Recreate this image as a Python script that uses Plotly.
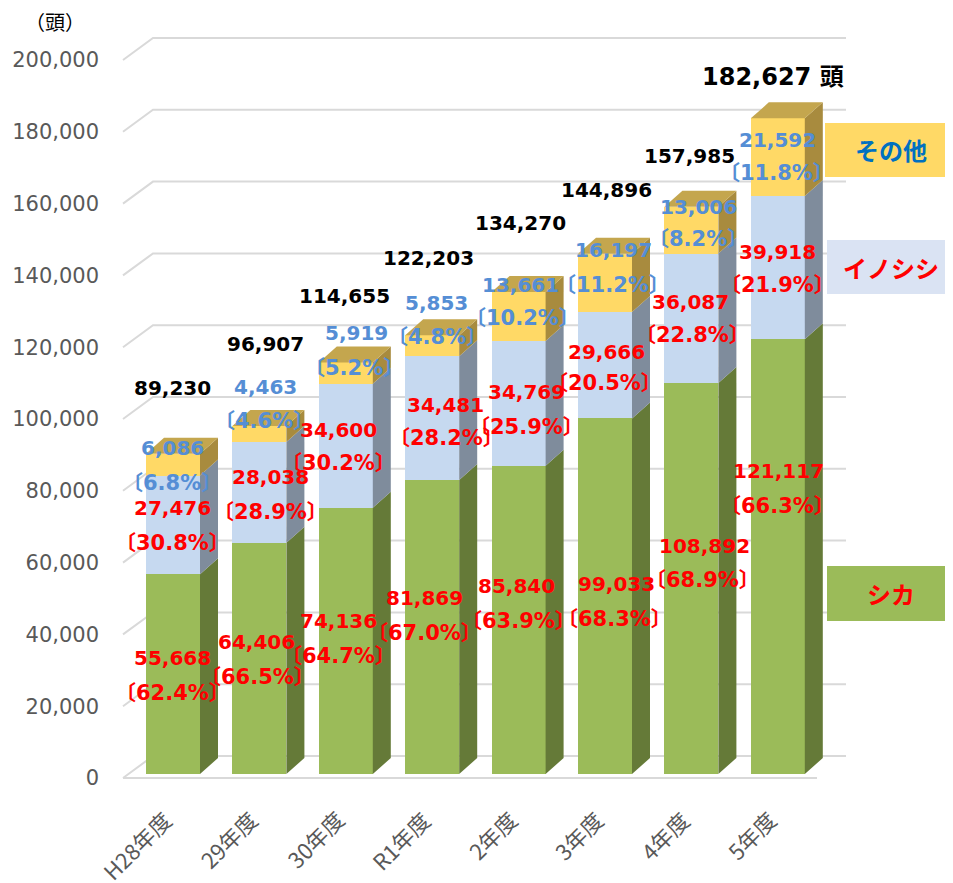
import plotly.graph_objects as go

# ---------------- data ----------------
years = ["H28年度", "29年度", "30年度", "R1年度", "2年度", "3年度", "4年度", "5年度"]
shika = [55668, 64406, 74136, 81869, 85840, 99033, 108892, 121117]
inoshishi = [27476, 28038, 34600, 34481, 34769, 29666, 36087, 39918]
sonota = [6086, 4463, 5919, 5853, 13661, 16197, 13006, 21592]
totals = [89230, 96907, 114655, 122203, 134270, 144896, 157985, 182627]
shika_pct = ["62.4", "66.5", "64.7", "67.0", "63.9", "68.3", "68.9", "66.3"]
ino_pct = ["30.8", "28.9", "30.2", "28.2", "25.9", "20.5", "22.8", "21.9"]
sonota_pct = ["6.8", "4.6", "5.2", "4.8", "10.2", "11.2", "8.2", "11.8"]
y_ticks = [0, 20000, 40000, 60000, 80000, 100000, 120000, 140000, 160000, 180000, 200000]

# ---------------- layout helpers (page pixel <-> data) ----------------
PAGE_W, PAGE_H = 953, 883
OFF = 8                          # default body margin of the html page
W, H = PAGE_W - OFF, PAGE_H - OFF
PL, PR, PT, PB = 100, 900, 20, 800   # plot area in page pixels
ML, MR, MT, MB = PL - OFF, W - (PR - OFF), PT - OFF, H - (PB - OFF)
X0PX, XS = 173.0, 86.4          # page px of category 0 centre, px per category
Y0PX, YS = 778.0, 278.55        # page px of value 0 (front), value per px


def xd(px):
    return (px - X0PX) / XS


def yd(py):
    return (Y0PX - py) * YS


def xp(px):
    return (px - PL) / (PR - PL)


def yp(py):
    return (PB - py) / (PB - PT)


BAR_W = 54 / XS
DX = 18 / XS             # depth offset of bar sides
DY = 16 * YS
BASE = 4 * YS            # bars sit slightly behind the front floor edge
GDX = 30 / XS            # depth offset of back wall
GDY = 22 * YS

GREEN, GREEN_S = "#9bbb59", "#657a38"
BLUE, BLUE_S = "#c6d9f0", "#7f8c9c"
YEL, YEL_S, YEL_T = "#ffd966", "#a88b3e", "#c4a64e"

xs = list(range(len(years)))
base_g = [BASE] * len(xs)
base_b = [BASE + s for s in shika]
base_y = [BASE + s + i for s, i in zip(shika, inoshishi)]

fig = go.Figure()
for vals, bases, col, name in [(shika, base_g, GREEN, "シカ"),
                               (inoshishi, base_b, BLUE, "イノシシ"),
                               (sonota, base_y, YEL, "その他")]:
    fig.add_trace(go.Bar(x=xs, y=vals, base=bases, width=BAR_W, name=name,
                         marker=dict(color=col, line=dict(width=0)),
                         hoverinfo="skip", showlegend=False))

shapes = []
# back-wall gridlines with perspective stub
xl_front, xl_back, xr_back = xd(123), xd(123) + GDX, xd(846)
for t in y_ticks:
    shapes.append(dict(type="path", layer="below",
                       path=f"M {xl_front},{t} L {xl_back},{t + GDY} L {xr_back},{t + GDY}",
                       line=dict(color="#d9d9d9", width=2)))
shapes.append(dict(type="line", layer="below", x0=xl_front, x1=xd(817), y0=0, y1=0,
                   line=dict(color="#d9d9d9", width=2)))

# bar side faces and tops
for i in xs:
    xr = i + BAR_W / 2
    xl = i - BAR_W / 2
    segs = [(base_g[i], base_b[i], GREEN_S), (base_b[i], base_y[i], BLUE_S),
            (base_y[i], base_y[i] + sonota[i], YEL_S)]
    for y0, y1, col in segs:
        shapes.append(dict(type="path", layer="above",
                           path=f"M {xr},{y0} L {xr + DX},{y0 + DY} L {xr + DX},{y1 + DY} L {xr},{y1} Z",
                           fillcolor=col, line=dict(width=0)))
    yt = base_y[i] + sonota[i]
    shapes.append(dict(type="path", layer="above",
                       path=f"M {xl},{yt} L {xl + DX},{yt + DY} L {xr + DX},{yt + DY} L {xr},{yt} Z",
                       fillcolor=YEL_T, line=dict(width=0)))

# legend boxes on the right
legend_boxes = [("その他", YEL, "#0070c0", 825, 123, 177),
                ("イノシシ", "#dae3f3", "#ff0000", 827, 240, 294),
                ("シカ", GREEN, "#ff0000", 827, 566, 621)]
annotations = []
for txt, bg, fc, x0, y0, y1 in legend_boxes:
    shapes.append(dict(type="rect", xref="paper", yref="paper", layer="above",
                       x0=xp(x0), x1=xp(960), y0=yp(y1), y1=yp(y0),
                       fillcolor=bg, line=dict(width=0)))
    annotations.append(dict(xref="paper", yref="paper", x=xp(891), y=yp((y0 + y1) / 2),
                            text=f"<b>{txt}</b>", showarrow=False, xanchor="center", yanchor="middle",
                            font=dict(family="Noto Sans CJK JP", size=24, color=fc)))

# data labels (page-pixel placements)
tot_lab_px = [(172, 388), (265, 344), (344, 296), (428, 258), (520, 223), (606, 190), (689, 156), (773, 77)]
oth_val_px = [(172, 448), (265, 387), (356, 333), (436, 303), (520, 285), (613, 250), (698, 207), (777, 140)]
oth_pct_px = [(172, 483), (264, 421), (354, 368), (437, 337), (522, 318), (612, 285), (698, 239), (776, 173)]
ino_val_px = [(172, 508), (270, 477), (338, 430), (445, 405), (526, 392), (606, 352), (690, 302), (777, 252)]
ino_pct_px = [(172, 543), (270, 512), (338, 463), (446, 438), (526, 427), (604, 383), (692, 335), (777, 285)]
shk_val_px = [(172, 658), (256, 642), (338, 621), (424, 598), (516, 586), (616, 584), (704, 546), (778, 471)]
shk_pct_px = [(172, 693), (257, 677), (338, 656), (424, 633), (518, 621), (614, 619), (702, 580), (777, 506)]

LAB_FONT = "DejaVu Sans, Noto Sans CJK JP"


def lab(pos, text, color, size=20):
    annotations.append(dict(x=xd(pos[0]), y=yd(pos[1]), text=f"<b>{text}</b>", showarrow=False,
                            xanchor="center", yanchor="middle",
                            font=dict(family=LAB_FONT, size=size, color=color)))


for i in xs:
    last = i == len(xs) - 1
    ttxt = f"{totals[i]:,}" + (" 頭" if last else "")
    lab(tot_lab_px[i], ttxt, "#000000", 24 if last else 20)
    lab(oth_val_px[i], f"{sonota[i]:,}", "#558ed5")
    lab(oth_pct_px[i], f"〔{sonota_pct[i]}%〕", "#558ed5", 21)
    lab(ino_val_px[i], f"{inoshishi[i]:,}", "#ff0000")
    lab(ino_pct_px[i], f"〔{ino_pct[i]}%〕", "#ff0000", 21)
    lab(shk_val_px[i], f"{shika[i]:,}", "#ff0000")
    lab(shk_pct_px[i], f"〔{shika_pct[i]}%〕", "#ff0000", 21)

# category labels, rotated, ending just below each bar
for i, name in enumerate(years):
    annotations.append(dict(x=i + 7 / XS, xref="x", y=yp(801), yref="paper", text=name,
                            textangle=-45, showarrow=False, xanchor="right", yanchor="top",
                            font=dict(family="Noto Sans CJK JP", size=22, color="#595959")))

annotations.append(dict(xref="paper", yref="paper", x=xp(55), y=yp(22), text="（頭）",
                        showarrow=False, xanchor="center", yanchor="middle",
                        font=dict(family="Noto Sans CJK JP", size=20, color="#000000")))

fig.update_layout(
    width=W, height=H, autosize=False,
    margin=dict(l=ML, r=MR, t=MT, b=MB, pad=0, autoexpand=False),
    paper_bgcolor="white", plot_bgcolor="white",
    barmode="overlay", bargap=0,
    shapes=shapes, annotations=annotations,
    xaxis=dict(range=[xd(PL), xd(PR)], showticklabels=False,
               showgrid=False, zeroline=False, showline=False, ticks="", automargin=False),
    yaxis=dict(range=[yd(PB), yd(PT)], tickmode="array", tickvals=y_ticks,
               ticktext=[f"{t:,}" for t in y_ticks], automargin=False,
               showgrid=False, zeroline=False, showline=False, ticks="",
               tickfont=dict(family="DejaVu Sans", size=21, color="#595959")),
)

fig.write_html("out.html")
